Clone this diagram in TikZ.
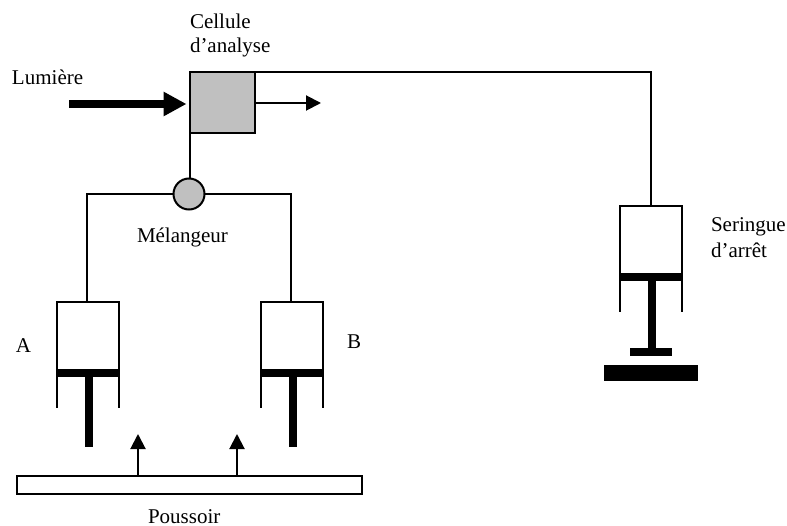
\documentclass[tikz,border=0pt]{standalone}
\usepackage{fontspec}
\setmainfont{Liberation Serif}
\usepackage{xcolor}
\definecolor{cellgray}{HTML}{C0C0C0}
\usetikzlibrary{arrows.meta,positioning,calc}

\begin{document}
\begin{tikzpicture}[
  x=1pt, y=-1pt,
  font=\fontsize{21}{25}\selectfont,
  every node/.style={inner sep=0pt, outer sep=0pt},
  pipe/.style={draw=black, line width=2pt},
  label/.style={anchor=base west, align=left},
  cell/.style={pipe, fill=cellgray, minimum width=65pt, minimum height=61pt},
  mixer/.style={pipe, circle, fill=cellgray, minimum size=31pt},
  body/.style={pipe, fill=white, minimum width=62pt, minimum height=68pt},
  piston/.style={fill=black, minimum width=63pt, minimum height=7pt},
  rod/.style={fill=black, minimum width=8pt, minimum height=70pt},
  pusher/.style={pipe, fill=white, minimum width=345pt, minimum height=18pt},
  beam/.style={pipe, -{Triangle[length=15pt,width=15pt]}},
  light/.style={line width=8pt, -{Triangle[length=23pt,width=23pt]}, shorten >=3pt}
]
  \useasboundingbox (0,0) rectangle (787,526);

  % cell and mixer
  \node[cell] (cell) at (222,103) {};
  \node[mixer] (mix) at (189,194) {};

  % syringes A and B
  \node[body] (cylA) at (87.5,336) {};
  \node[piston] (pistA) at (87.5,373.5) {};
  \node[rod] (rodA) at (89,412) {};
  \node[body] (cylB) at (292,336) {};
  \node[piston] (pistB) at (292,373.5) {};
  \node[rod] (rodB) at (293,412) {};
  \coordinate (inA) at (86.5,302);
  \coordinate (inB) at (291,302);
  \coordinate (wallend) at (0,408);

  % stop syringe
  \node[body] (cylS) at (650.5,240) {};
  \node[piston] (pistS) at (650.5,277.5) {};
  \node[fill=black, minimum width=8pt, minimum height=68pt] (rodS) at (651.5,314.5) {};
  \node[fill=black, minimum width=42pt, minimum height=8pt] (footS) at (651,352) {};
  \node[fill=black, minimum width=94pt, minimum height=16pt] (plateS) at (651,373) {};
  \coordinate (wallendS) at (0,312);

  % pusher
  \node[pusher] (push) at (189,484.5) {};
  \coordinate (tipL) at (138,434);
  \coordinate (tipR) at (237,434);

  % pipes
  \draw[pipe] (cell.south west) -- (cell.south west |- mix.north);
  \draw[pipe] (mix.west) -| (inA);
  \draw[pipe] (mix.east) -| (inB);
  \draw[pipe] (cell.north east) -| (cylS.north);
  \draw[pipe] (cylA.south west) -- (cylA.south west |- wallend);
  \draw[pipe] (cylA.south east) -- (cylA.south east |- wallend);
  \draw[pipe] (cylB.south west) -- (cylB.south west |- wallend);
  \draw[pipe] (cylB.south east) -- (cylB.south east |- wallend);
  \draw[pipe] (cylS.south west) -- (cylS.south west |- wallendS);
  \draw[pipe] (cylS.south east) -- (cylS.south east |- wallendS);

  % arrows
  \coordinate (lightin) at (69,104);
  \coordinate (outlet) at (321,103);
  \draw[light] (lightin) -- (lightin -| cell.west);
  \draw[beam] (cell.east) -- (outlet);
  \draw[beam] (tipL |- push.north) -- (tipL);
  \draw[beam] (tipR |- push.north) -- (tipR);

  % labels
  \node[label] (lcell) at (190,29) {Cellule};
  \node[label] (lcell2) at (190,53) {d’analyse};
  \node[label] (llight) at (12,85) {Lumière};
  \node[label] (lmix) at (137,243) {Mélangeur};
  \node[label] (la) at (16,353) {A};
  \node[label] (lb) at (347,349) {B};
  \node[label] (lpush) at (148,523) {Poussoir};
  \node[label] (lstop) at (711,232) {Seringue};
  \node[label] (lstop2) at (711,258) {d’arrêt};
\end{tikzpicture}
\end{document}
